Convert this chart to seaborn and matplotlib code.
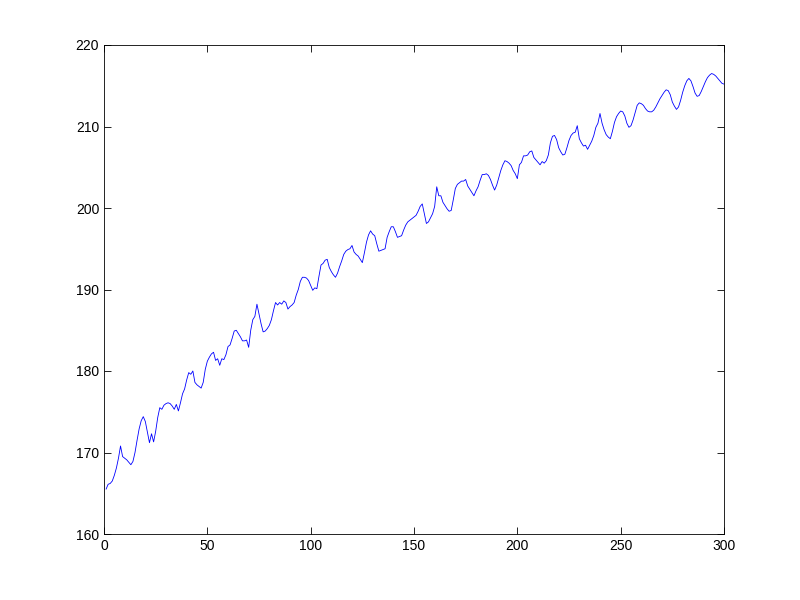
import numpy as np
import pandas as pd
import seaborn as sns
import matplotlib.pyplot as plt

# monthly series, values (x = 1..300)
months = np.arange(1, 301)
values = [
    165.5, 166.1, 166.2, 166.5, 167.2, 168.1, 169.3, 170.8, 169.5, 169.3,
    169.1, 168.8, 168.5, 168.9, 170.0, 171.5, 172.9, 173.9, 174.4, 173.8,
    172.5, 171.2, 172.3, 171.3, 172.6, 174.3, 175.5, 175.3, 175.8, 176.0,
    176.1, 176.0, 175.7, 175.3, 175.9, 175.1, 176.1, 177.2, 177.8, 178.9,
    179.8, 179.6, 180.0, 178.6, 178.3, 178.1, 177.9, 178.6, 180.2, 181.2,
    181.7, 182.1, 182.3, 181.3, 181.5, 180.7, 181.5, 181.4, 182.0, 183.0,
    183.2, 184.0, 184.9, 185.0, 184.6, 184.2, 183.7, 183.7, 183.8, 182.9,
    185.0, 186.3, 186.7, 188.2, 187.0, 185.8, 184.8, 184.9, 185.2, 185.6,
    186.3, 187.4, 188.4, 188.1, 188.4, 188.2, 188.6, 188.4, 187.6, 187.9,
    188.1, 188.4, 189.3, 190.0, 191.0, 191.5, 191.5, 191.4, 191.1, 190.5,
    189.9, 190.2, 190.1, 191.6, 193.0, 193.2, 193.6, 193.7, 192.7, 192.2,
    191.8, 191.5, 192.0, 192.8, 193.5, 194.3, 194.7, 194.9, 195.0, 195.4,
    194.6, 194.3, 194.1, 193.7, 193.3, 194.5, 195.8, 196.7, 197.2, 196.8,
    196.6, 195.6, 194.7, 194.8, 194.9, 195.0, 196.4, 197.1, 197.7, 197.7,
    197.1, 196.4, 196.5, 196.6, 197.3, 197.9, 198.3, 198.5, 198.7, 198.9,
    199.1, 199.6, 200.2, 200.5, 199.3, 198.1, 198.3, 198.8, 199.3, 200.2,
    202.6, 201.5, 201.5, 200.7, 200.3, 199.9, 199.6, 199.7, 201.0, 202.4,
    202.9, 203.1, 203.3, 203.3, 203.5, 202.7, 202.3, 201.9, 201.5, 202.1,
    202.6, 203.4, 204.1, 204.1, 204.2, 204.0, 203.5, 202.8, 202.2, 202.8,
    203.7, 204.6, 205.3, 205.8, 205.7, 205.5, 205.2, 204.6, 204.2, 203.6,
    205.3, 205.6, 206.4, 206.4, 206.5, 206.9, 207.0, 206.2, 205.9, 205.6,
    205.3, 205.7, 205.5, 205.8, 206.5, 208.0, 208.8, 208.9, 208.4, 207.4,
    206.9, 206.5, 206.6, 207.4, 208.3, 208.9, 209.2, 209.3, 210.1, 208.5,
    208.0, 207.6, 207.7, 207.2, 207.7, 208.2, 208.9, 209.9, 210.4, 211.6,
    210.4, 209.6, 209.0, 208.7, 208.5, 209.4, 210.5, 211.2, 211.6, 211.9,
    211.8, 211.3, 210.4, 209.9, 210.1, 210.8, 211.7, 212.6, 212.9, 212.8,
    212.6, 212.2, 211.9, 211.8, 211.8, 212.0, 212.4, 212.9, 213.4, 213.8,
    214.2, 214.5, 214.4, 213.9, 213.0, 212.5, 212.1, 212.4, 213.2, 214.2,
    215.0, 215.6, 215.9, 215.6, 214.9, 214.1, 213.7, 213.8, 214.3, 214.9,
    215.5, 216.0, 216.3, 216.5, 216.4, 216.2, 215.9, 215.6, 215.3, 215.2,
]
xticks = [0, 50, 100, 150, 200, 250, 300]
yticks = [160, 170, 180, 190, 200, 210, 220]

df = pd.DataFrame({'t': months, 'v': values})

sns.set_style("ticks")
plt.rcParams['font.family'] = ['Liberation Sans', 'DejaVu Sans']

fig = plt.figure(figsize=(8, 6), dpi=100)
ax = fig.add_axes([0.13, 0.11, 0.775, 0.815])
sns.lineplot(data=df, x='t', y='v', ax=ax, color='#0000ff', linewidth=0.6)

ax.set_xlim(0, 300)
ax.set_ylim(160, 220)
ax.set_xticks(xticks)
ax.set_yticks(yticks)
ax.set_xlabel('')
ax.set_ylabel('')
for s in ax.spines.values():
    s.set_visible(True)
    s.set_color('black')
    s.set_linewidth(0.6)
ax.tick_params(direction='in', top=True, right=True, length=5, width=0.6,
               labelsize=10, colors='black')

fig.savefig('out.png', dpi=100, facecolor='white')
